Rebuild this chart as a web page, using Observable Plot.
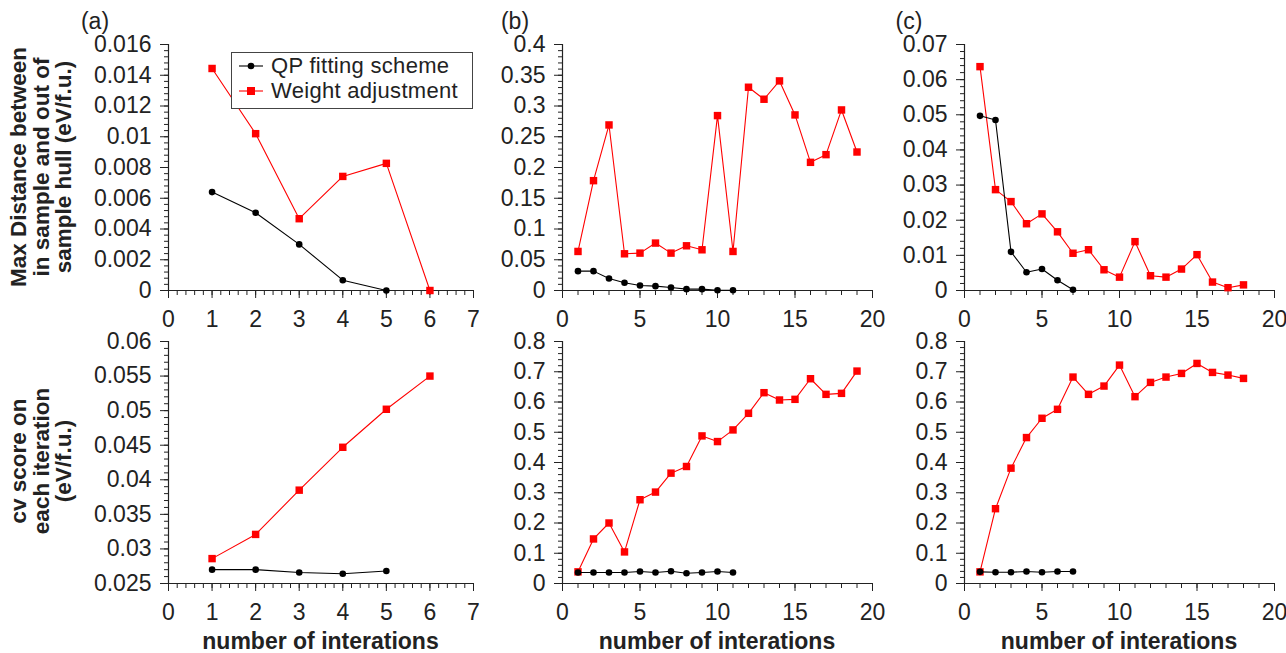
<!DOCTYPE html>
<html><head><meta charset="utf-8">
<script src="https://cdn.jsdelivr.net/npm/d3@7"></script>
<script src="https://cdn.jsdelivr.net/npm/@observablehq/plot@0.6"></script>
<style>
body{margin:0;background:#fff;}
#root{position:relative;width:1286px;height:653px;font-family:"Liberation Sans",Arial,sans-serif;color:#222;}
#root svg{position:absolute;left:0;top:0;overflow:visible;}
#root svg text{font-size:23px !important;}
.ytitle{position:absolute;font-weight:bold;font-size:22.5px;line-height:22.5px;text-align:center;transform:translate(-50%,-50%) rotate(-90deg);white-space:nowrap;}
.xtitle{position:absolute;font-weight:bold;font-size:23px;transform:translate(-50%,-50%);white-space:nowrap;}
.plab{position:absolute;font-size:23px;transform:translate(-50%,-50%);}
#legend{position:absolute;left:231px;top:52px;width:240px;height:55px;border:1px solid #444;background:#fff;font-size:22px;letter-spacing:0.3px;}
#legend .row{position:absolute;left:6px;display:flex;align-items:center;height:20px;line-height:20px;}
</style></head>
<body><div id="root"></div>
<script>
// ---- data ----
const seriesNames = ["QP fitting scheme", "Weight adjustment"];
const panelLabels = ["(a)", "(b)", "(c)"];
const yTitleTop = ["Max Distance between", "in sample and out of", "sample hull (eV/f.u.)"];
const yTitleBottom = ["cv score on", "each iteration", "(eV/f.u.)"];
const xTitle = "number of interations";

// top row: max distance
const aTopQP = [0.0064, 0.00506, 0.0030, 0.00067, 0.0];
const aTopW  = [0.01444, 0.0102, 0.00467, 0.00742, 0.00827, 0.0];
const bTopQP = [0.0315, 0.0315, 0.0195, 0.0125, 0.0081, 0.0071, 0.0049, 0.0022, 0.0022, 0.0005, 0.0005];
const bTopW  = [0.0635, 0.1786, 0.2692, 0.0597, 0.0608, 0.0771, 0.0608, 0.0727, 0.0662, 0.2844, 0.0635, 0.3305, 0.3110, 0.3408, 0.2855, 0.2084, 0.2209, 0.2936, 0.2252];
const cTopQP = [0.0497, 0.0485, 0.0110, 0.0052, 0.0061, 0.0029, 0.0002];
const cTopW  = [0.0637, 0.0287, 0.0253, 0.0190, 0.0218, 0.0167, 0.0106, 0.0116, 0.0059, 0.0038, 0.0139, 0.0042, 0.0038, 0.0061, 0.0102, 0.0024, 0.0008, 0.0016];
// bottom row: cv score
const aBotQP = [0.0270, 0.0270, 0.0266, 0.0264, 0.0268];
const aBotW  = [0.0286, 0.0321, 0.0385, 0.0447, 0.0502, 0.0550];
const bBotQP = [0.0363, 0.0363, 0.0363, 0.0363, 0.0396, 0.0363, 0.0407, 0.0341, 0.0363, 0.0396, 0.0363];
const bBotW  = [0.0385, 0.1473, 0.2000, 0.1044, 0.2769, 0.3022, 0.3648, 0.3868, 0.4879, 0.4692, 0.5077, 0.5626, 0.6308, 0.6066, 0.6088, 0.6769, 0.6253, 0.6286, 0.7022];
const cBotQP = [0.0385, 0.0374, 0.0374, 0.0396, 0.0374, 0.0396, 0.0396];
const cBotW  = [0.0385, 0.2473, 0.3813, 0.4824, 0.5462, 0.5758, 0.6824, 0.6253, 0.6527, 0.7220, 0.6176, 0.6648, 0.6824, 0.6945, 0.7275, 0.6978, 0.6890, 0.6780];

// tick labels
const xTicksA = [0, 1, 2, 3, 4, 5, 6, 7];
const xTicksBC = [0, 5, 10, 15, 20];
const yTicksATop = [0, 0.002, 0.004, 0.006, 0.008, 0.01, 0.012, 0.014, 0.016];
const yTicksBTop = [0, 0.05, 0.1, 0.15, 0.2, 0.25, 0.3, 0.35, 0.4];
const yTicksCTop = [0, 0.01, 0.02, 0.03, 0.04, 0.05, 0.06, 0.07];
const yTicksABot = [0.025, 0.03, 0.035, 0.04, 0.045, 0.05, 0.055, 0.06];
const yTicksBCBot = [0, 0.1, 0.2, 0.3, 0.4, 0.5, 0.6, 0.7, 0.8];

// ---- layout ----
const W = 1286, H = 653;
const cols = [{L:168, R:473}, {L:562, R:872}, {L:964, R:1274}];
const rows = [{T:44, B:290}, {T:341, B:583}];
const RED = "#ff0000", BLACK = "#000000", AX = "#222";
const FONT = "Liberation Sans, Arial, sans-serif";

const panels = [
  {c:0, r:0, qp:aTopQP, w:aTopW, xd:[0,7], xt:xTicksA, xm:0.2, yd:[0,0.016], yt:yTicksATop, ym:0.0004},
  {c:1, r:0, qp:bTopQP, w:bTopW, xd:[0,20], xt:xTicksBC, xm:1, yd:[0,0.4], yt:yTicksBTop, ym:0.01},
  {c:2, r:0, qp:cTopQP, w:cTopW, xd:[0,20], xt:xTicksBC, xm:1, yd:[0,0.07], yt:yTicksCTop, ym:0.002},
  {c:0, r:1, qp:aBotQP, w:aBotW, xd:[0,7], xt:xTicksA, xm:0.2, yd:[0.025,0.06], yt:yTicksABot, ym:0.001},
  {c:1, r:1, qp:bBotQP, w:bBotW, xd:[0,20], xt:xTicksBC, xm:1, yd:[0,0.8], yt:yTicksBCBot, ym:0.02},
  {c:2, r:1, qp:cBotQP, w:cBotW, xd:[0,20], xt:xTicksBC, xm:1, yd:[0,0.8], yt:yTicksBCBot, ym:0.02},
];

const root = document.getElementById("root");
const fmt = d3.format("~g");

for (const p of panels) {
  const col = cols[p.c], row = rows[p.r];
  const qpData = p.qp.map((v, i) => ({x: i + 1, y: v}));
  const wData = p.w.map((v, i) => ({x: i + 1, y: v}));
  const xMinor = d3.range(p.xd[0], p.xd[1] + p.xm / 2, p.xm);
  const yMinor = d3.range(p.yd[0], p.yd[1] + p.ym / 2, p.ym);
  const chart = Plot.plot({
    width: W, height: H,
    marginLeft: col.L, marginRight: W - col.R, marginTop: row.T, marginBottom: H - row.B,
    style: {fontFamily: FONT, fontSize: "23px", color: AX, background: "transparent"},
    x: {domain: p.xd, label: null},
    y: {domain: p.yd, label: null},
    marks: [
      Plot.axisX({ticks: xMinor, tickSize: 5, tickFormat: () => "", stroke: AX}),
      Plot.axisY({ticks: yMinor, tickSize: 4, tickFormat: () => "", stroke: AX}),
      Plot.axisX({ticks: p.xt, tickSize: 8, tickPadding: 12, tickFormat: fmt, stroke: AX, fill: AX, fontSize: 23}),
      Plot.axisY({ticks: p.yt, tickSize: 8, tickPadding: 9, tickFormat: fmt, stroke: AX, fill: AX, fontSize: 23}),
      Plot.ruleX([p.xd[0]], {stroke: AX, strokeWidth: 1.2}),
      Plot.ruleY([p.yd[0]], {stroke: AX, strokeWidth: 1.2}),
      Plot.line(wData, {x: "x", y: "y", stroke: RED, strokeWidth: 1.1}),
      Plot.dot(wData, {x: "x", y: "y", symbol: "square", r: 4.2, fill: RED, stroke: "none"}),
      Plot.line(qpData, {x: "x", y: "y", stroke: BLACK, strokeWidth: 1.1}),
      Plot.dot(qpData, {x: "x", y: "y", r: 3.3, fill: BLACK, stroke: "none"}),
    ]
  });
  root.appendChild(chart);
}

function addDiv(cls, html, style) {
  const d = document.createElement("div");
  d.className = cls;
  d.innerHTML = html;
  Object.assign(d.style, style);
  root.appendChild(d);
  return d;
}

// panel labels
const plabX = [95, 515, 909];
panelLabels.forEach((t, i) => addDiv("plab", t, {left: plabX[i] + "px", top: "21px"}));

// y titles
addDiv("ytitle", yTitleTop.join("<br>"), {left: "42px", top: "167px"});
addDiv("ytitle", yTitleBottom.join("<br>"), {left: "42px", top: "461px"});

// x titles
cols.forEach(c => addDiv("xtitle", xTitle, {left: ((c.L + c.R) / 2) + "px", top: "641px"}));

// legend
const leg = addDiv("", "", {});
leg.id = "legend";
const sw = [
  `<svg width="26" height="14" style="position:static"><line x1="1" y1="7" x2="25" y2="7" stroke="${BLACK}" stroke-width="1.1"/><circle cx="13" cy="7" r="3.3" fill="${BLACK}"/></svg>`,
  `<svg width="26" height="14" style="position:static"><line x1="1" y1="7" x2="25" y2="7" stroke="${RED}" stroke-width="1.1"/><rect x="9" y="3" width="8" height="8" fill="${RED}"/></svg>`
];
seriesNames.forEach((n, i) => {
  const r = document.createElement("div");
  r.className = "row";
  r.style.top = (i === 0 ? 3 : 28) + "px";
  r.innerHTML = sw[i] + `<span style="margin-left:7px">${n}</span>`;
  leg.appendChild(r);
});
</script></body></html>
